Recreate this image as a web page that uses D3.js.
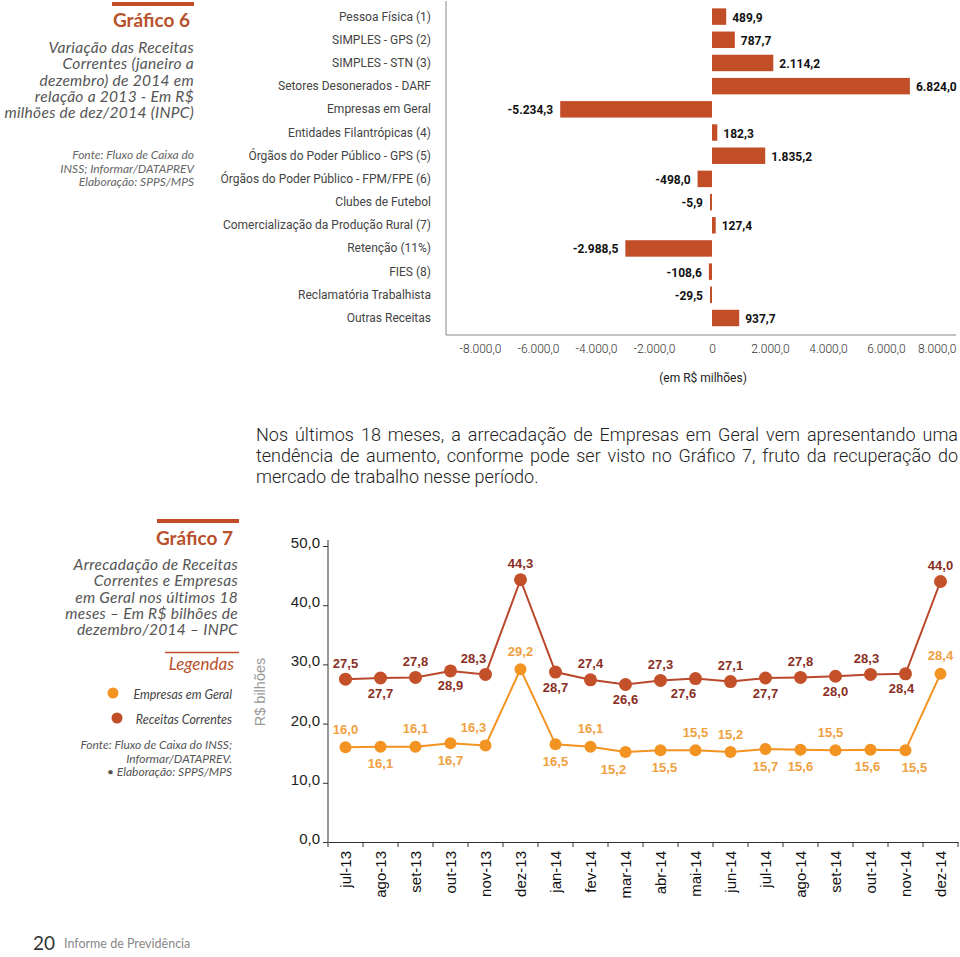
<!DOCTYPE html>
<html><head><meta charset="utf-8">
<script src="https://cdn.jsdelivr.net/npm/d3@7"></script>
<style>
html,body{margin:0;padding:0;background:#fff;}
svg{display:block;}
</style></head>
<body>
<script>
// ---------- DATA: Gráfico 6 ----------
const categories6 = ["Pessoa Física (1)", "SIMPLES - GPS (2)", "SIMPLES - STN (3)", "Setores Desonerados - DARF",
  "Empresas em Geral", "Entidades Filantrópicas (4)", "Órgãos do Poder Público - GPS (5)",
  "Órgãos do Poder Público - FPM/FPE (6)", "Clubes de Futebol", "Comercialização da Produção Rural (7)",
  "Retenção (11%)", "FIES (8)", "Reclamatória Trabalhista", "Outras Receitas"];
const values6 = [489.9, 787.7, 2114.2, 6824.0, -5234.3, 182.3, 1835.2, -498.0, -5.9, 127.4, -2988.5, -108.6, -29.5, 937.7];
const ticks6 = [-8000, -6000, -4000, -2000, 0, 2000, 4000, 6000, 8000];

// ---------- DATA: Gráfico 7 ----------
const months7 = ["jul-13","ago-13","set-13","out-13","nov-13","dez-13","jan-14","fev-14","mar-14","abr-14",
  "mai-14","jun-14","jul-14","ago-14","set-14","out-14","nov-14","dez-14"];
const receitasCorrentes = [27.5, 27.7, 27.8, 28.9, 28.3, 44.3, 28.7, 27.4, 26.6, 27.3, 27.6, 27.1, 27.7, 27.8, 28.0, 28.3, 28.4, 44.0];
const empresasGeral = [16.0, 16.1, 16.1, 16.7, 16.3, 29.2, 16.5, 16.1, 15.2, 15.5, 15.5, 15.2, 15.7, 15.6, 15.5, 15.6, 15.5, 28.4];
const ticks7 = [0, 10, 20, 30, 40, 50];

// label placement (a = above, b = below) and small horizontal nudges
const placeRC = ["a","b","a","b","a","a","b","a","b","a","b","a","b","a","b","a","b","a"];
const nudgeRC = [0,0,0,0,-12,0,0,0,0,0,-12,0,0,0,0,-4,-4,0];
const placeEG = ["a","b","a","b","a","a","b","a","b","b","a","a","b","b","a","b","b","a"];
const nudgeEG = [0,0,0,0,-12,0,0,0,-12,4,0,0,0,0,-5,-3,9,0];

const W = 960, H = 957;
const svg = d3.select("body").append("svg").attr("width", W).attr("height", H);

const BRICK = "#c24e28", ORANGE = "#f39322", TITLE = "#b9502c";
const lato = "Lato, 'Open Sans', sans-serif";

// ================= Left block: Gráfico 6 =================
svg.append("rect").attr("x", 112).attr("y", 2).attr("width", 82).attr("height", 4).attr("fill", BRICK);
svg.append("text").attr("x", 190).attr("y", 27).attr("text-anchor", "end")
  .attr("font-family", lato).attr("font-weight", 700).attr("font-size", 19).attr("fill", TITLE).text("Gráfico 6");
const sub6 = ["Variação das Receitas", "Correntes (janeiro a", "dezembro) de 2014 em", "relação a 2013 - Em R$", "milhões de dez/2014 (INPC)"];
svg.append("g").selectAll("text").data(sub6).join("text")
  .attr("x", 194).attr("y", (d, i) => 53 + i * 16.3).attr("text-anchor", "end")
  .attr("font-family", lato).attr("font-style", "italic").attr("font-size", 15.5).attr("letter-spacing", 0.3)
  .attr("fill", "#555").text(d => d);
const fonte6 = ["Fonte: Fluxo de Caixa do", "INSS; Informar/DATAPREV", "Elaboração: SPPS/MPS"];
svg.append("g").selectAll("text").data(fonte6).join("text")
  .attr("x", 194).attr("y", (d, i) => 159 + i * 13.5).attr("text-anchor", "end")
  .attr("font-family", lato).attr("font-style", "italic").attr("font-size", 12).attr("fill", "#666").text(d => d);

// ================= Gráfico 6 chart =================
const x6 = d3.scaleLinear().domain([-8000, 8000]).range([480, 944]);
const y6 = d3.scaleBand().domain(categories6).range([5, 329.6]).paddingInner(0.29).paddingOuter(0.145);
const g6 = svg.append("g");
const rows = categories6.map((c, i) => ({c, v: values6[i]}));

g6.selectAll("rect.bar").data(rows).join("rect").attr("class", "bar")
  .attr("x", d => d.v >= 0 ? x6(0) : Math.min(x6(d.v), x6(0) - 2))
  .attr("width", d => Math.max(Math.abs(x6(d.v) - x6(0)), 2))
  .attr("y", d => y6(d.c)).attr("height", y6.bandwidth()).attr("fill", BRICK);

const fmt6 = v => d3.format(",.1f")(v).replace(/,/g, "#").replace(".", ",").replace(/#/g, ".").replace("−", "-");
g6.selectAll("text.val").data(rows).join("text").attr("class", "val")
  .attr("x", d => d.v >= 0 ? x6(d.v) + 6 : Math.min(x6(d.v), x6(0) - 2) - 7)
  .attr("y", d => y6(d.c) + y6.bandwidth() / 2 + 1)
  .attr("dominant-baseline", "central")
  .attr("text-anchor", d => d.v >= 0 ? "start" : "end")
  .attr("font-family", "Roboto, sans-serif").attr("font-weight", 700).attr("font-size", 12).attr("fill", "#111")
  .text(d => fmt6(d.v));

// category labels
g6.selectAll("text.cat").data(categories6).join("text").attr("class", "cat")
  .attr("x", 431).attr("y", d => y6(d) + y6.bandwidth() / 2)
  .attr("dominant-baseline", "central").attr("text-anchor", "end")
  .attr("font-family", "Roboto, sans-serif").attr("font-size", 12).attr("fill", "#444").text(d => d);

// axes lines
g6.append("line").attr("x1", 446).attr("x2", 446).attr("y1", 1).attr("y2", 335).attr("stroke", "#888").attr("stroke-width", 1);
const xAxis6 = d3.axisBottom(x6).tickValues(ticks6).tickSize(0).tickPadding(9)
  .tickFormat(v => v === 0 ? "0" : fmt6(v));
const ax6 = g6.append("g").attr("transform", "translate(0,335)").call(xAxis6);
ax6.select(".domain").remove();
ax6.append("line").attr("x1", 446).attr("x2", 956).attr("y1", 0).attr("y2", 0).attr("stroke", "#888");
ax6.selectAll("text").attr("font-family", "Roboto, sans-serif").attr("font-size", 12).attr("fill", "#333").attr("font-weight", 300);
// keep the outermost tick label inside the page
ax6.selectAll(".tick").filter(d => d === 8000).select("text").attr("text-anchor", "end").attr("x", 12);
svg.append("text").attr("x", 703).attr("y", 382).attr("text-anchor", "middle")
  .attr("font-family", "Roboto, sans-serif").attr("font-size", 12).attr("fill", "#222").text("(em R$ milhões)");

// ================= Paragraph =================
const para = [
  "Nos últimos 18 meses, a arrecadação de Empresas em Geral vem apresentando uma",
  "tendência de aumento, conforme pode ser visto no Gráfico 7, fruto da recuperação do",
  "mercado de trabalho nesse período."
];
const pX0 = 256, pX1 = 958;
const pt = svg.append("g").selectAll("text").data(para).join("text")
  .attr("x", pX0).attr("y", (d, i) => 441 + i * 21)
  .attr("font-family", "Roboto, sans-serif").attr("font-size", 18).attr("font-weight", 300).attr("fill", "#222")
  .text(d => d);
pt.each(function(d, i) {
  if (i < para.length - 1) {
    const len = this.getComputedTextLength();
    const spaces = d.split(" ").length - 1;
    d3.select(this).attr("word-spacing", (pX1 - pX0 - len) / spaces);
  }
});

// ================= Left block: Gráfico 7 =================
svg.append("rect").attr("x", 157).attr("y", 519).attr("width", 82).attr("height", 4).attr("fill", BRICK);
svg.append("text").attr("x", 233).attr("y", 545).attr("text-anchor", "end")
  .attr("font-family", lato).attr("font-weight", 700).attr("font-size", 19).attr("fill", TITLE).text("Gráfico 7");
const sub7 = ["Arrecadação de Receitas", "Correntes e Empresas", "em Geral nos últimos 18", "meses – Em R$ bilhões de", "dezembro/2014 – INPC"];
svg.append("g").selectAll("text").data(sub7).join("text")
  .attr("x", 238).attr("y", (d, i) => 570 + i * 16.3).attr("text-anchor", "end")
  .attr("font-family", lato).attr("font-style", "italic").attr("font-size", 15.5).attr("letter-spacing", 0.3)
  .attr("fill", "#555").text(d => d);
svg.append("line").attr("x1", 165).attr("x2", 239).attr("y1", 652.5).attr("y2", 652.5).attr("stroke", BRICK).attr("stroke-width", 1.5);
svg.append("text").attr("x", 234).attr("y", 670).attr("text-anchor", "end")
  .attr("font-family", lato).attr("font-style", "italic").attr("font-size", 17).attr("fill", TITLE).text("Legendas");
const legend = [{n: "Empresas em Geral", c: ORANGE, cx: 113, y: 693}, {n: "Receitas Correntes", c: BRICK, cx: 117, y: 718}];
const lg = svg.append("g").selectAll("g").data(legend).join("g");
lg.append("circle").attr("cx", d => d.cx).attr("cy", d => d.y).attr("r", 5.5).attr("fill", d => d.c);
lg.append("text").attr("x", 232).attr("y", d => d.y + 1).attr("dominant-baseline", "central").attr("text-anchor", "end")
  .attr("font-family", lato).attr("font-style", "italic").attr("font-size", 12.5).attr("fill", "#444").text(d => d.n);
const fonte7 = ["Fonte: Fluxo de Caixa do INSS;", "Informar/DATAPREV.", "• Elaboração: SPPS/MPS"];
svg.append("g").selectAll("text").data(fonte7).join("text")
  .attr("x", 232).attr("y", (d, i) => 749 + i * 13.5).attr("text-anchor", "end")
  .attr("font-family", lato).attr("font-style", "italic").attr("font-size", 12).attr("fill", "#555").text(d => d);
svg.append("text").attr("transform", "translate(265,692) rotate(-90)").attr("text-anchor", "middle")
  .attr("font-family", "'Liberation Sans', Arial, sans-serif").attr("font-size", 14.5).attr("fill", "#999").text("R$ bilhões");

// ================= Gráfico 7 chart =================
const x7 = d3.scaleBand().domain(months7).range([328, 958]);
const y7 = d3.scaleLinear().domain([0, 50]).range([842, 546]);
const g7 = svg.append("g");
const arial = "'Liberation Sans', Arial, sans-serif";

const yAx = g7.append("g").attr("transform", "translate(328,0)")
  .call(d3.axisLeft(y7).tickValues(ticks7).tickSize(5).tickPadding(3).tickFormat(v => d3.format(".1f")(v).replace(".", ",")));
yAx.select(".domain").attr("stroke", "#333").attr("d", "M0,540V842");
yAx.selectAll(".tick line").attr("stroke", "#333");
yAx.selectAll("text").attr("font-family", arial).attr("font-size", 15).attr("fill", "#222").attr("dy", "0.1em");

const xAx = g7.append("g").attr("transform", "translate(0,842)")
  .call(d3.axisBottom(x7).tickSize(0).tickFormat(""));
xAx.select(".domain").attr("stroke", "#333");
xAx.selectAll(".tick").remove();
g7.append("g").selectAll("line").data(months7.concat(["__end"])).join("line")
  .attr("x1", (d, i) => 328 + i * x7.step()).attr("x2", (d, i) => 328 + i * x7.step())
  .attr("y1", 842).attr("y2", 847).attr("stroke", "#333");
g7.append("g").selectAll("text").data(months7).join("text")
  .attr("transform", d => `translate(${x7(d) + x7.bandwidth() / 2},851) rotate(-90)`)
  .attr("text-anchor", "end").attr("dy", "0.35em")
  .attr("font-family", arial).attr("font-size", 15).attr("fill", "#111").text(d => d);

const cx = d => x7(d) + x7.bandwidth() / 2;
const series = [
  {vals: receitasCorrentes, color: "#b9472b", dot: "#c4502a", r: 6.5, lab: "#8a2e24", place: placeRC, nudge: nudgeRC, up: 16, down: 15},
  {vals: empresasGeral, color: "#f39322", dot: "#f39322", r: 6, lab: "#f0a040", place: placeEG, nudge: nudgeEG, up: 18, down: 17}
];
series.forEach(s => {
  const pts = months7.map((m, i) => ({m, v: s.vals[i], p: s.place[i], n: s.nudge[i]}));
  g7.append("path").datum(pts)
    .attr("d", d3.line().x(d => cx(d.m)).y(d => y7(d.v)))
    .attr("fill", "none").attr("stroke", s.color).attr("stroke-width", 2);
  g7.append("g").selectAll("circle").data(pts).join("circle")
    .attr("cx", d => cx(d.m)).attr("cy", d => y7(d.v)).attr("r", s.r).attr("fill", s.dot);
  g7.append("g").selectAll("text").data(pts).join("text")
    .attr("x", d => cx(d.m) + d.n)
    .attr("y", d => y7(d.v) + (d.p === "a" ? -s.up : s.down))
    .attr("dominant-baseline", "central").attr("text-anchor", "middle")
    .attr("font-family", arial).attr("font-weight", 700).attr("font-size", 13).attr("fill", s.lab)
    .text(d => d3.format(".1f")(d.v).replace(".", ","));
});

// ================= Footer =================
svg.append("text").attr("x", 33).attr("y", 950).attr("font-family", "Lato, sans-serif").attr("font-size", 19)
  .attr("fill", "#333").text("20");
svg.append("text").attr("x", 64).attr("y", 948).attr("font-family", "Lato, sans-serif").attr("font-size", 12.5)
  .attr("fill", "#888").text("Informe de Previdência");
</script>
</body></html>
